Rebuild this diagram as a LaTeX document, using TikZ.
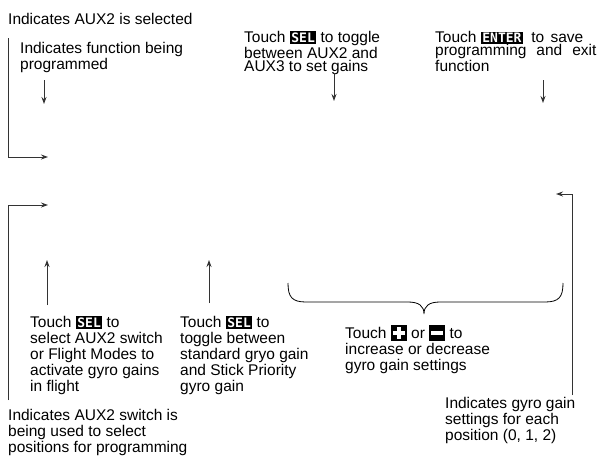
\documentclass[tikz,border=0pt]{standalone}
\usepackage{fontspec}
\setmainfont{Liberation Sans}
\newfontfamily\keyfont{DejaVu Sans Mono}
\usetikzlibrary{arrows.meta}
\newcommand\keybox[1]{{\setlength\fboxsep{1.5pt}\colorbox{black}{\textcolor{white}{\keyfont\bfseries\fontsize{13}{13}\selectfont #1}}}}
\newcommand\plusbox{{\setlength\fboxsep{2pt}\colorbox{black}{\textcolor{white}{\rule[3.5pt]{12pt}{4pt}\hspace{-8pt}\rule[-0.5pt]{4pt}{12pt}\hspace{4pt}}}}}
\newcommand\minusbox{{\setlength\fboxsep{2pt}\colorbox{black}{\textcolor{white}{\rule[-0.5pt]{0pt}{12pt}\rule[3.5pt]{12pt}{4pt}}}}}
\tikzset{
  lbl/.style={anchor=base west, inner sep=0pt, align=left, font=\fontsize{15.5}{#1}\selectfont},
  lbl/.default=16,
  conn/.style={line width=1pt, draw=black!80},
  arr/.style={conn, -{Stealth[length=7pt,width=5pt]}},
}
\begin{document}
\begin{tikzpicture}[x=1pt,y=-1pt]
\useasboundingbox[fill=white] (0,0) rectangle (600,466);
% texts (anchored at the baseline of the last line)
\node[lbl] (t1) at (8,24) {Indicates AUX2 is selected};
\node[lbl] (t2) at (20,69) {Indicates function being\\programmed};
\node[lbl=13] (t3) at (244,71) {Touch \keybox{SEL} to toggle\\between AUX2 and\\AUX3 to set gains};
\node[lbl=13] (t4) at (435,71) {Touch \keybox{ENTER}\hspace{4pt} to\hspace{2pt} save\\programming\hspace{10pt}and\hspace{10pt}exit\\function};
\node[lbl] (t5) at (30,391) {Touch \keybox{SEL} to\\select AUX2 switch\\or Flight Modes to\\activate gyro gains\\in flight};
\node[lbl] (t6) at (180,391) {Touch \keybox{SEL} to\\toggle between\\standard gryo gain\\and Stick Priority\\gyro gain};
\node[lbl] (t7) at (345,370) {Touch \plusbox{} or \minusbox{} to\\increase or decrease\\gyro gain settings};
\node[lbl] (t8) at (445,440) {Indicates gyro gain\\settings for each\\position (0, 1, 2)};
\node[lbl] (t9) at (8,452) {Indicates AUX2 switch is\\being used to select\\positions for programming};
% coordinates
\coordinate (a1s) at (8,38);
\coordinate (a1e) at (48,157);
\coordinate (a2s) at (44,80);
\coordinate (a2e) at (44,104);
\coordinate (a3s) at (334,73);
\coordinate (a3e) at (334,101);
\coordinate (a4s) at (543,80);
\coordinate (a4e) at (543,103);
\coordinate (a5s) at (8,400);
\coordinate (a5e) at (48,205);
\coordinate (a6s) at (47,305);
\coordinate (a6e) at (47,260);
\coordinate (a7s) at (209,303);
\coordinate (a7e) at (209,260);
\coordinate (a8s) at (572,395);
\coordinate (a8e) at (556,194);
\coordinate (b1) at (288,283);
\coordinate (b2) at (563,283);
\coordinate (bt) at (424,314);
% connectors
\draw[arr] (a1s) |- (a1e);
\draw[arr] (a2s) -- (a2e);
\draw[arr] (a3s) -- (a3e);
\draw[arr] (a4s) -- (a4e);
\draw[arr] (a5s) |- (a5e);
\draw[arr] (a6s) -- (a6e);
\draw[arr] (a7s) -- (a7e);
\draw[arr] (a8s) |- (a8e);
% brace
\draw[line width=0.8pt] (b1) .. controls (288,297) and (292,302) .. (306,302)
  -- (408,302) .. controls (419,302) and (424,306) .. (bt)
  .. controls (424,306) and (429,302) .. (440,302)
  -- (545,302) .. controls (559,302) and (563,297) .. (b2);
\end{tikzpicture}
\end{document}
